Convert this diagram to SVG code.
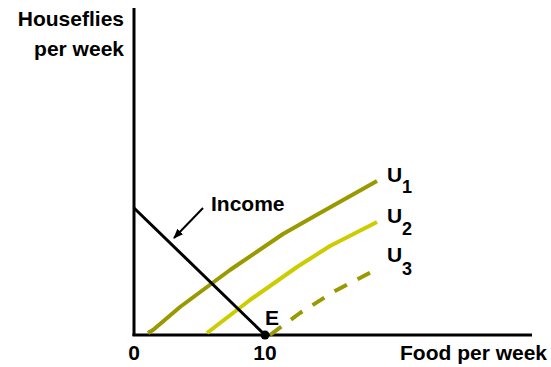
<svg xmlns="http://www.w3.org/2000/svg" width="551" height="367" viewBox="0 0 551 367">
<style>
.t{font-family:"Liberation Sans",Arial,sans-serif;font-weight:bold;fill:#000;font-size:21px}
.s{font-size:18px}
.ax{stroke:#000;stroke-width:3;fill:none}
.u{fill:none;stroke-width:4;stroke-linecap:butt;stroke-linejoin:round}
</style>
<defs>
<marker id="ah" markerWidth="10" markerHeight="8" refX="9" refY="4" orient="auto" markerUnits="userSpaceOnUse">
<path d="M0,0 L10,4 L0,8 Z" fill="#000"/>
</marker>
</defs>
<g id="axes">
<line class="ax" x1="134" y1="8" x2="134" y2="336"/>
<line class="ax" x1="132.5" y1="335" x2="532" y2="335"/>
</g>
<g id="labels">
<text class="t" x="124" y="26" text-anchor="end">Houseflies</text>
<text class="t" x="124" y="56" text-anchor="end">per week</text>
<text class="t" x="134" y="360" text-anchor="middle">0</text>
<text class="t" x="265" y="360" text-anchor="middle">10</text>
<text class="t" x="400" y="360">Food per week</text>
</g>
<g id="U1">
<path class="u" stroke="#999900" d="M148,333 L153,330 L180,307 L230,270 L283,234 L320,213 L377,181"/>
<text class="t" x="387" y="182">U</text>
<text class="t s" x="402" y="193">1</text>
</g>
<g id="U2">
<path class="u" stroke="#cccc00" d="M207,333 L250,300 L297,267 L330,246 L377,222"/>
<text class="t" x="387" y="223">U</text>
<text class="t s" x="402" y="235">2</text>
</g>
<g id="U3">
<path class="u" stroke="#999900" stroke-dasharray="14,12" d="M270,335 L300,313 L335,291 L377,269"/>
<text class="t" x="387" y="262">U</text>
<text class="t s" x="402" y="275">3</text>
</g>
<g id="connectors">
<line x1="134" y1="208" x2="265" y2="335" stroke="#000" stroke-width="3"/>
<line x1="203" y1="208" x2="174" y2="238" stroke="#000" stroke-width="2" marker-end="url(#ah)"/>
</g>
<g id="income">
<text class="t" x="211" y="211">Income</text>
</g>
<g id="E">
<circle cx="265" cy="335" r="4.5" fill="#000"/>
<text class="t" x="265" y="325">E</text>
</g>
</svg>
